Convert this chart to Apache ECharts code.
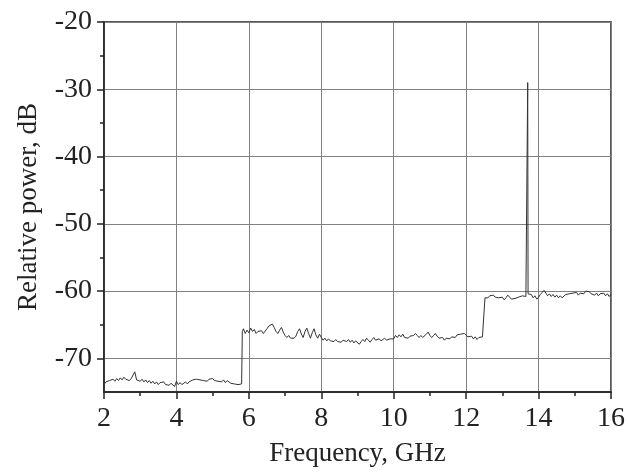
<!DOCTYPE html>
<html>
<head>
<meta charset="utf-8">
<script src="https://cdn.jsdelivr.net/npm/echarts@6/dist/echarts.min.js"></script>
<style>
  html, body { margin: 0; padding: 0; background: #fff; }
  #main { width: 628px; height: 472px; }
</style>
</head>
<body>
<div id="main"></div>
<script>
// 频谱数据 [GHz, dB]
const band1 = [
  [2.0,-73.9],[2.05,-73.5],[2.1,-73.7],[2.15,-73.3],[2.2,-73.5],[2.25,-73.1],[2.3,-73.4],[2.35,-73.0],
  [2.4,-73.3],[2.45,-72.9],[2.5,-73.2],[2.55,-72.8],[2.6,-73.1],[2.65,-72.9],[2.7,-73.3],[2.75,-73.0],
  [2.8,-72.9],[2.85,-72.0],[2.9,-73.2],[2.95,-73.0],[3.0,-73.4],[3.05,-73.1],[3.1,-73.5],[3.15,-73.2],
  [3.2,-73.6],[3.25,-73.3],[3.3,-73.7],[3.35,-73.4],[3.4,-73.8],[3.45,-73.5],[3.5,-73.9],[3.55,-73.6],
  [3.6,-73.8],[3.65,-73.5],[3.7,-73.9],[3.75,-73.7],[3.8,-74.0],[3.85,-73.7],[3.9,-73.9],[3.95,-74.2],
  [4.0,-73.4],[4.05,-73.9],[4.1,-73.6],[4.15,-73.9],[4.2,-73.7],[4.25,-73.5],[4.3,-73.8],[4.35,-73.5],
  [4.4,-73.6],[4.45,-73.2],[4.5,-73.4],[4.55,-73.1],[4.6,-72.9],[4.65,-73.2],[4.7,-73.0],[4.75,-73.3],
  [4.8,-73.1],[4.85,-73.4],[4.9,-73.1],[4.95,-73.3],[5.0,-73.0],[5.05,-73.3],[5.1,-73.1],[5.15,-73.4],
  [5.2,-73.2],[5.25,-73.5],[5.3,-73.2],[5.35,-73.6],[5.4,-73.3],[5.45,-73.4],[5.5,-73.7],[5.55,-73.5],
  [5.6,-73.8],[5.65,-73.6],[5.7,-73.9],[5.75,-73.7],[5.8,-73.8]
];
const band2 = [
  [5.82,-66.0],[5.85,-65.6],[5.9,-66.3],[5.95,-65.8],[6.0,-66.2],[6.05,-65.5],[6.1,-66.0],[6.15,-65.7],
  [6.2,-66.3],[6.25,-66.0],[6.3,-66.2],[6.35,-65.9],[6.4,-66.3],[6.45,-66.1],[6.5,-65.6],[6.55,-65.2],
  [6.6,-65.0],[6.65,-64.9],[6.7,-65.4],[6.75,-66.0],[6.8,-66.3],[6.85,-65.8],[6.9,-65.4],[6.95,-66.1],
  [7.0,-66.6],[7.05,-66.9],[7.1,-66.6],[7.15,-67.0],[7.2,-66.8],[7.25,-67.0],[7.3,-66.7],[7.35,-66.0],
  [7.4,-65.6],[7.45,-66.4],[7.5,-66.9],[7.55,-66.0],[7.6,-65.5],[7.65,-66.3],[7.7,-67.0],[7.75,-66.2],
  [7.8,-65.6],[7.85,-66.5],[7.9,-67.0],[7.95,-66.4],[8.0,-66.9],[8.05,-67.3],[8.1,-67.0],[8.15,-67.4],
  [8.2,-67.1],[8.25,-67.4],[8.3,-67.2],[8.35,-67.5],[8.4,-67.2],[8.45,-67.5],[8.5,-67.3],[8.55,-67.6],
  [8.6,-67.3],[8.65,-67.1],[8.7,-67.5],[8.75,-67.2],[8.8,-67.6],[8.85,-67.3],[8.9,-67.7],[8.95,-67.4],
  [9.0,-67.6],[9.05,-67.9],[9.1,-67.5],[9.15,-67.2],[9.2,-67.5],[9.25,-67.0],[9.3,-67.3],[9.35,-67.6],
  [9.4,-67.2],[9.45,-66.9],[9.5,-67.3],[9.55,-67.5],[9.6,-67.1],[9.65,-67.4],[9.7,-67.2],[9.75,-67.0],
  [9.8,-67.3],[9.85,-67.5],[9.9,-67.1],[9.95,-67.3],[10.0,-67.1],[10.05,-66.6],[10.1,-66.9],[10.15,-66.5],
  [10.2,-66.8],[10.25,-66.4],[10.3,-66.9],[10.35,-66.7],[10.4,-67.0],[10.45,-66.7],[10.5,-66.9],[10.55,-66.6],
  [10.6,-66.3],[10.65,-66.6],[10.7,-66.9],[10.75,-66.6],[10.8,-66.9],[10.85,-66.7],[10.9,-66.4],[10.95,-66.1],
  [11.0,-66.6],[11.05,-66.9],[11.1,-66.6],[11.15,-66.3],[11.2,-66.7],[11.25,-67.0],[11.3,-67.2],[11.35,-66.9],
  [11.4,-67.3],[11.45,-67.0],[11.5,-66.8],[11.55,-67.1],[11.6,-66.8],[11.65,-66.6],[11.7,-66.9],[11.75,-66.5],
  [11.8,-66.7],[11.85,-66.4],[11.9,-66.6],[11.95,-66.3],[12.0,-66.5],[12.05,-66.8],[12.1,-67.0],[12.15,-66.7],
  [12.2,-67.1],[12.25,-66.8],[12.3,-67.2],[12.35,-66.9],[12.4,-67.1],[12.45,-66.8],[12.5,-67.0]
];
const band3 = [
  [12.52,-61.0],[12.55,-60.8],[12.6,-61.0],[12.65,-60.7],[12.7,-60.9],[12.75,-60.6],[12.8,-60.9],[12.85,-60.7],
  [12.9,-61.0],[12.95,-61.2],[13.0,-60.9],[13.05,-61.3],[13.1,-61.0],[13.15,-60.6],[13.2,-60.9],[13.25,-61.2],
  [13.3,-61.4],[13.35,-61.1],[13.4,-61.3],[13.45,-60.9],[13.5,-61.1],[13.55,-60.7],[13.6,-60.5],[13.65,-60.8],
  [13.69,-60.6],[13.7,-29.0],[13.71,-60.4],[13.75,-60.2],[13.8,-60.5],[13.85,-61.0],[13.9,-60.7],[13.95,-61.2],
  [14.0,-60.9],[14.05,-60.5],[14.1,-60.2],[14.15,-59.9],[14.2,-60.3],[14.25,-60.7],[14.3,-60.4],[14.35,-60.8],
  [14.4,-60.5],[14.45,-60.9],[14.5,-60.6],[14.55,-61.0],[14.6,-60.7],[14.65,-61.0],[14.7,-60.8],[14.75,-60.5],
  [14.8,-60.7],[14.85,-60.4],[14.9,-60.6],[14.95,-60.3],[15.0,-60.5],[15.05,-60.2],[15.1,-60.6],[15.15,-60.3],
  [15.2,-60.1],[15.25,-60.4],[15.3,-60.0],[15.35,-59.8],[15.4,-60.1],[15.45,-60.4],[15.5,-60.2],[15.55,-60.6],
  [15.6,-60.3],[15.65,-60.7],[15.7,-60.4],[15.75,-60.6],[15.8,-60.3],[15.85,-60.7],[15.9,-60.4],[15.95,-60.8],
  [16.0,-60.5]
];
// 刻度
const yMajorTicks = [-70, -60, -50, -40, -30, -20];
const yMinorTicks = [-65, -55, -45, -35, -25];

const spectrum = band1.concat(band2, band3);
const font = "Liberation Serif";
const dark = "#222";

let myChart = echarts.init(document.getElementById("main"));
let option = {
  backgroundColor: "#fff",
  animation: false,
  grid: {
    left: 104,
    right: 17,
    top: 22,
    bottom: 77,
    show: true,
    borderColor: dark,
    borderWidth: 1.5,
  },
  xAxis: {
    type: "value",
    min: 2,
    max: 16,
    interval: 2,
    name: "Frequency, GHz",
    nameLocation: "middle",
    nameGap: 48,
    nameTextStyle: { fontFamily: font, fontSize: 27, color: dark },
    axisLine: { show: true, onZero: false, lineStyle: { color: dark, width: 1.5 } },
    axisTick: { show: true, inside: false, length: 7, lineStyle: { color: dark, width: 1.5 } },
    minorTick: { show: true, splitNumber: 2, length: 4, lineStyle: { color: dark, width: 1.5 } },
    axisLabel: { fontFamily: font, fontSize: 28, color: dark, margin: 13 },
    splitLine: { show: true, lineStyle: { color: "#808080", width: 1 } },
  },
  yAxis: [
    {
      type: "value",
      min: -75,
      max: -20,
      name: "Relative power, dB",
      nameLocation: "middle",
      nameGap: 62,
      nameTextStyle: { fontFamily: font, fontSize: 27, color: dark },
      axisLine: { show: true, onZero: false, lineStyle: { color: dark, width: 1.5 } },
      axisTick: { show: true, length: 7, customValues: yMajorTicks, lineStyle: { color: dark, width: 1.5 } },
      axisLabel: { fontFamily: font, fontSize: 28, color: dark, margin: 12, customValues: yMajorTicks },
      splitLine: { show: true, lineStyle: { color: "#808080", width: 1 } },
    },
    {
      type: "value",
      min: -75,
      max: -20,
      position: "left",
      axisLine: { show: false },
      axisTick: { show: true, length: 4, customValues: yMinorTicks, lineStyle: { color: dark, width: 1.5 } },
      axisLabel: { show: false },
      splitLine: { show: false },
    },
  ],
  series: [
    {
      type: "line",
      data: spectrum,
      showSymbol: false,
      symbol: "none",
      lineStyle: { color: "#333", width: 1 },
    },
  ],
};
myChart.setOption(option);
</script>
</body>
</html>
